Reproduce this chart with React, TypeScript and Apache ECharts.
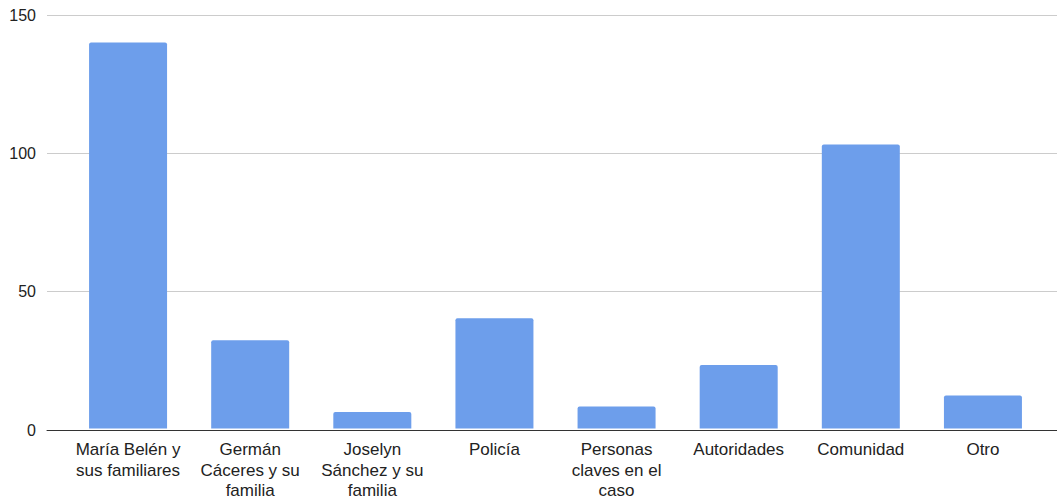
import React, { useEffect, useRef } from "react";
import * as echarts from "echarts";

const categories = [
  "María Belén y\nsus familiares",
  "Germán\nCáceres y su\nfamilia",
  "Joselyn\nSánchez y su\nfamilia",
  "Policía",
  "Personas\nclaves en el\ncaso",
  "Autoridades",
  "Comunidad",
  "Otro",
];
const values = [140, 32, 6, 40, 8, 23, 103, 12];
const yMin = 0;
const yMax = 150;
const yInterval = 50;

export default function App() {
  const ref = useRef<HTMLDivElement>(null);
  useEffect(() => {
    if (!ref.current) return;
    const chart = echarts.init(ref.current, null, { renderer: "svg" });
    const font = "'Liberation Sans', Arial, sans-serif";
    chart.setOption({
      animation: false,
      textStyle: { fontFamily: font },
      grid: [
        { left: 67, right: 13, top: 15, bottom: 71 },
        { left: 47, right: 0, top: 15, bottom: 71 },
      ],
      xAxis: [
        {
          type: "category",
          gridIndex: 0,
          data: categories,
          axisLine: { show: false },
          axisTick: { show: false },
          axisLabel: {
            interval: 0,
            fontSize: 17,
            lineHeight: 20.5,
            color: "#222",
            margin: 11,
            fontFamily: font,
          },
        },
        {
          type: "value",
          gridIndex: 1,
          min: 0,
          max: 1,
          axisLine: { show: true, onZero: false, lineStyle: { color: "#333", width: 1 } },
          axisTick: { show: false },
          axisLabel: { show: false },
          splitLine: { show: false },
        },
      ],
      yAxis: [
        {
          type: "value",
          gridIndex: 0,
          min: yMin,
          max: yMax,
          interval: yInterval,
          show: false,
          splitLine: { show: false },
        },
        {
          type: "value",
          gridIndex: 1,
          min: yMin,
          max: yMax,
          interval: yInterval,
          axisLine: { show: false },
          axisTick: { show: false },
          axisLabel: { fontSize: 16, color: "#222", margin: 11, fontFamily: font },
          splitLine: { show: true, lineStyle: { color: "#ccc", width: 1 } },
        },
      ],
      series: [
        {
          type: "bar",
          xAxisIndex: 0,
          yAxisIndex: 0,
          data: values,
          barWidth: 78,
          itemStyle: { color: "#6d9eeb", borderRadius: [2, 2, 0, 0] },
        },
      ],
    });
    return () => chart.dispose();
  }, []);
  return (
    <div
      ref={ref}
      style={{ position: "fixed", left: 0, top: 0, width: 1057, height: 501, background: "#fff" }}
    />
  );
}
